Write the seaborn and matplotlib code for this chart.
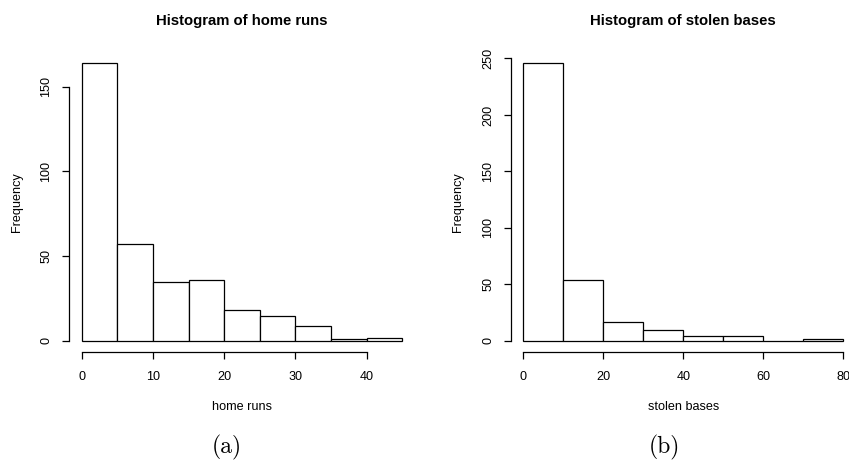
import numpy as np
import pandas as pd
import matplotlib
matplotlib.use("Agg")
import matplotlib.pyplot as plt
import seaborn as sns

# ---- data ----
hr_edges = [0, 5, 10, 15, 20, 25, 30, 35, 40, 45]
hr_counts = [164, 57, 35, 36, 18, 15, 9, 1, 2]
sb_edges = [0, 10, 20, 30, 40, 50, 60, 70, 80]
sb_counts = [246, 54, 17, 10, 4, 4, 0, 2]
hr_xticks = [0, 10, 20, 30, 40]
hr_yticks = [0, 50, 100, 150]
sb_xticks = [0, 20, 40, 60, 80]
sb_yticks = [0, 50, 100, 150, 200, 250]

sns.set_style("white")
plt.rcParams["font.family"] = ["Liberation Sans", "DejaVu Sans"]
plt.rcParams["text.color"] = "black"
plt.rcParams["axes.labelcolor"] = "black"

W, H = 849, 462
fig = plt.figure(figsize=(W / 100, H / 100), dpi=100)

def px_axes(x0, x1, y0, y1):
    return fig.add_axes([x0 / W, (H - y1) / H, (x1 - x0) / W, (y1 - y0) / H])

ax1 = px_axes(68.9, 415.2, 51.9, 352.1)
ax2 = px_axes(510.5, 856.1, 51.9, 352.1)

def panel(ax, edges, counts, xticks, yticks, title, xlabel):
    e = np.asarray(edges, float)
    centers = (e[:-1] + e[1:]) / 2
    df = pd.DataFrame({"x": centers, "w": counts})
    sns.histplot(data=df, x="x", weights="w", bins=list(edges), ax=ax,
                 color="white", edgecolor="black", linewidth=0.9, alpha=1.0)
    ax.use_sticky_edges = False
    ax.margins(x=0.04, y=0.04)
    ax.autoscale_view()
    for s in ["top", "right"]:
        ax.spines[s].set_visible(False)
    for s in ["left", "bottom"]:
        ax.spines[s].set_color("black")
        ax.spines[s].set_linewidth(0.9)
    ax.set_xticks(xticks)
    ax.set_yticks(yticks)
    ax.spines["bottom"].set_bounds(xticks[0], xticks[-1])
    ax.spines["left"].set_bounds(yticks[0], yticks[-1])
    ax.tick_params(axis="both", direction="out", length=4.8, width=0.9,
                   color="black", labelsize=9.1, labelcolor="black",
                   left=True, bottom=True)
    ax.tick_params(axis="x", pad=8.5)
    ax.tick_params(axis="y", labelrotation=90, pad=7.0)
    for t in ax.get_yticklabels():
        t.set_va("center")
    ax.set_title(title, fontsize=10.7, fontweight="bold", y=1.103, va="center",
                 pad=0, color="black")
    ax.set_xlabel(xlabel, fontsize=9.1)
    ax.set_ylabel("Frequency", fontsize=9.1)
    ax.xaxis.set_label_coords(0.5, -0.1839)
    ax.xaxis.label.set_va("center")
    ax.patch.set_alpha(0)
    ax.grid(False)

panel(ax1, hr_edges, hr_counts, hr_xticks, hr_yticks,
      "Histogram of home runs", "home runs")
panel(ax2, sb_edges, sb_counts, sb_xticks, sb_yticks,
      "Histogram of stolen bases", "stolen bases")

ax1.yaxis.set_label_coords((17 - 68.9) / 346.3, 0.5)
ax1.yaxis.label.set_va("center")
ax2.yaxis.set_label_coords((457.7 - 510.5) / 345.6, 0.5)
ax2.yaxis.label.set_va("center")

fig.text(227 / W, (H - 447.5) / H, "(a)", family="cmr10", fontsize=17,
         ha="center", va="center")
fig.text(664 / W, (H - 447.5) / H, "(b)", family="cmr10", fontsize=17,
         ha="center", va="center")

fig.savefig("out.png", dpi=100)
